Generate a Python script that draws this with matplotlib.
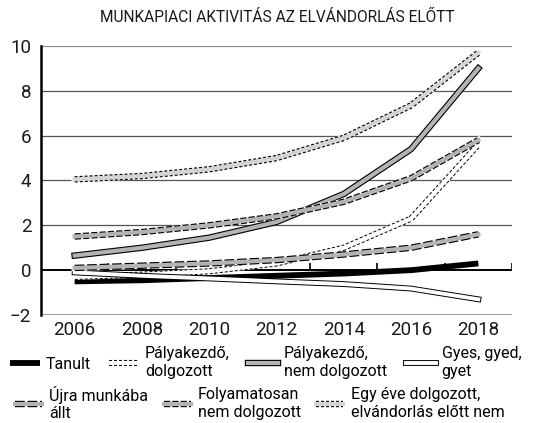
import numpy as np
import matplotlib.pyplot as plt

plt.rcParams['font.family'] = ['Roboto', 'DejaVu Sans']
plt.rcParams['lines.scale_dashes'] = False

years = [2006, 2008, 2010, 2012, 2014, 2016, 2018]

tanult = [-0.5, -0.45, -0.35, -0.25, -0.15, 0.0, 0.3]
palyakezdo_dolg = [-0.3, -0.2, -0.05, 0.3, 1.0, 2.3, 5.6]
palyakezdo_nem = [0.65, 1.0, 1.45, 2.15, 3.4, 5.4, 9.0]
gyes = [-0.1, -0.25, -0.37, -0.5, -0.62, -0.82, -1.3]
ujra = [0.1, 0.2, 0.3, 0.45, 0.7, 1.0, 1.6]
folyamatosan = [1.5, 1.7, 2.0, 2.4, 3.05, 4.1, 5.8]
egy_eve = [4.05, 4.2, 4.5, 5.0, 5.9, 7.35, 9.7]

labels = ['Tanult', 'Pályakezdő,\ndolgozott', 'Pályakezdő,\nnem dolgozott',
          'Gyes, gyed,\ngyet', 'Újra munkába\nállt', 'Folyamatosan\nnem dolgozott',
          'Egy éve dolgozott,\nelvándorlás előtt nem']

fig = plt.figure(figsize=(5.37, 4.23), dpi=100)
ax = fig.add_axes([0.0764, 0.2553, 0.8770, 0.6360])


def bordered(y, fill, edge, w=4.6, inner=3.0):
    # a filled line with a (possibly dashed) black outline
    parts = []
    if edge != '-':
        l0, = ax.plot(years, y, color='white', lw=w, solid_capstyle='projecting')
        parts.append(l0)
    l1, = ax.plot(years, y, color='black', lw=w, ls=edge,
                  solid_capstyle='projecting', dash_capstyle='butt')
    l2, = ax.plot(years, y, color=fill, lw=inner, solid_capstyle='projecting')
    parts += [l1, l2]
    return tuple(parts)


h_tanult, = ax.plot(years, tanult, color='black', lw=4.2, solid_capstyle='butt')
h_pd = bordered(palyakezdo_dolg, 'white', (0, (2.2, 1.4)), w=4.4, inner=3.0)
h_pn = bordered(palyakezdo_nem, '#b3b3b3', '-')
h_gy = bordered(gyes, 'white', '-', w=4.2, inner=2.8)
h_uj = bordered(ujra, '#b3b3b3', (0, (7, 2)))
h_fo = bordered(folyamatosan, '#b3b3b3', (0, (4.5, 1.5)))
h_eg = bordered(egy_eve, '#d4d4d4', (0, (2.2, 1.4)))

# horizontal lines
for v in [2, 4, 6, 8]:
    ax.axhline(v, color='#555555', lw=0.9, zorder=0)
ax.axhline(10, color='#8a8a8a', lw=1.6, zorder=0)
ax.axhline(-2, color='#8a8a8a', lw=1.2, zorder=0)
ax.axhline(0, color='black', lw=1.4, zorder=1)
ax.vlines(np.arange(2007, 2020, 2), 0, 0.3, color='black', lw=1.2, zorder=1)

ax.set_xlim(2005, 2019)
ax.set_ylim(-2, 10)
ax.set_xticks(years)
ax.set_yticks(np.arange(-2, 11, 2))
ax.set_yticklabels(['\u22122', '0', '2', '4', '6', '8', '10'])
ax.tick_params(axis='both', length=0, labelsize=13.5, colors='#1a1a1a')
ax.tick_params(axis='x', pad=4)
ax.tick_params(axis='y', pad=7)
for s in ['top', 'right', 'bottom']:
    ax.spines[s].set_visible(False)
ax.spines['left'].set_linewidth(1.8)
ax.spines['left'].set_color('black')

fig.text(0.516, 0.958, 'MUNKAPIACI AKTIVITÁS AZ ELVÁNDORLÁS ELŐTT',
         ha='center', va='center', fontsize=11.2, color='#1a1a1a')

fig.legend([h_tanult, h_pd, h_pn, h_gy], labels[:4], ncol=4, frameon=False,
           loc='upper left', bbox_to_anchor=(0.018, 0.181), fontsize=11.5,
           handlelength=1.9, handletextpad=0.35, columnspacing=1.15,
           borderpad=0, borderaxespad=0, labelspacing=0)
fig.legend([h_uj, h_fo, h_eg], labels[4:], ncol=3, frameon=False,
           loc='upper left', bbox_to_anchor=(0.028, 0.088), fontsize=11.5,
           handlelength=1.7, handletextpad=0.45, columnspacing=0.95,
           borderpad=0, borderaxespad=0, labelspacing=0)

fig.savefig('out.png', dpi=100)
